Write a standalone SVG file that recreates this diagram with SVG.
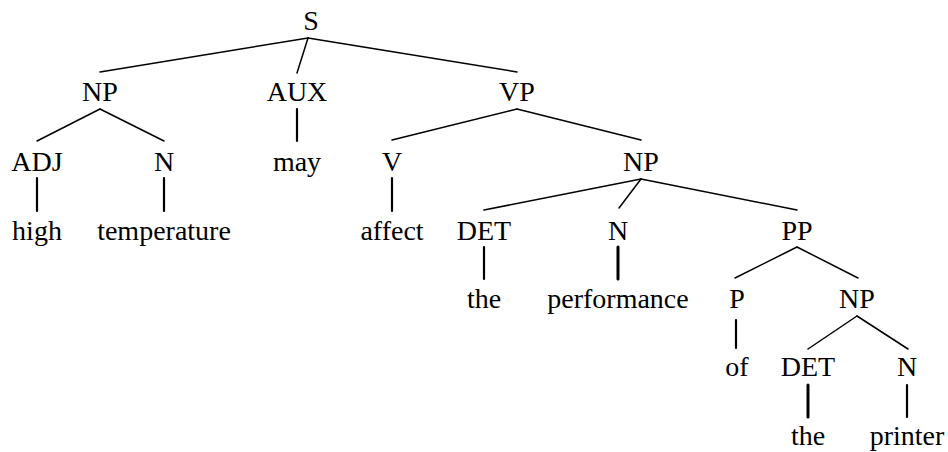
<svg xmlns="http://www.w3.org/2000/svg" width="948" height="452" viewBox="0 0 948 452">
<style>
text{font-family:"Liberation Serif","Times New Roman",serif;font-size:28px;fill:#000;text-anchor:middle}
.e{stroke:#000;stroke-width:1.5;fill:none;stroke-linecap:round}
.v{stroke-width:2.2}
.b{stroke-width:3}
</style>
<rect width="948" height="452" fill="#fff"/>
<g id="connectors">
<line class="e" x1="308" y1="38" x2="100" y2="72"/>
<line class="e" x1="308" y1="38" x2="297" y2="73"/>
<line class="e" x1="308" y1="38" x2="517" y2="72"/>
<line class="e" x1="100" y1="109" x2="37" y2="141"/>
<line class="e" x1="100" y1="109" x2="164" y2="141"/>
<line class="e v" x1="297" y1="109" x2="297" y2="141"/>
<line class="e" x1="517" y1="109" x2="392" y2="140"/>
<line class="e" x1="517" y1="109" x2="641" y2="140"/>
<line class="e v" x1="37" y1="178" x2="37" y2="211"/>
<line class="e v" x1="164" y1="178" x2="164" y2="211"/>
<line class="e v" x1="392" y1="178" x2="392" y2="211"/>
<line class="e" x1="641" y1="179" x2="484" y2="210"/>
<line class="e" x1="641" y1="179" x2="619" y2="208"/>
<line class="e" x1="641" y1="179" x2="797" y2="210"/>
<line class="e v" x1="484" y1="247" x2="484" y2="279"/>
<line class="e b" x1="618" y1="247" x2="618" y2="279"/>
<line class="e" x1="797" y1="247" x2="735" y2="278"/>
<line class="e" x1="797" y1="247" x2="858" y2="278"/>
<line class="e v" x1="736" y1="320" x2="736" y2="348"/>
<line class="e" x1="857" y1="316" x2="808" y2="349"/>
<line class="e" x1="857" y1="316" x2="908" y2="349"/>
<line class="e b" x1="808" y1="385" x2="808" y2="417"/>
<line class="e v" x1="907" y1="385" x2="907" y2="417"/>
</g>
<g id="S"><text x="311" y="30">S</text></g>
<g id="NP1"><text x="100" y="101">NP</text></g>
<g id="AUX"><text x="297" y="101">AUX</text></g>
<g id="VP"><text x="517" y="101">VP</text></g>
<g id="ADJ"><text x="37" y="171">ADJ</text></g>
<g id="N1"><text x="164" y="171">N</text></g>
<g id="may"><text x="297" y="171">may</text></g>
<g id="V"><text x="392" y="171">V</text></g>
<g id="NP2"><text x="641" y="171">NP</text></g>
<g id="high"><text x="37" y="240">high</text></g>
<g id="temperature"><text x="164" y="240">temperature</text></g>
<g id="affect"><text x="392" y="240">affect</text></g>
<g id="DET1"><text x="484" y="240">DET</text></g>
<g id="N2"><text x="618" y="240">N</text></g>
<g id="PP"><text x="797" y="240">PP</text></g>
<g id="the1"><text x="484" y="308">the</text></g>
<g id="performance"><text x="618" y="308">performance</text></g>
<g id="P"><text x="737" y="308">P</text></g>
<g id="NP3"><text x="857" y="308">NP</text></g>
<g id="of"><text x="737" y="376">of</text></g>
<g id="DET2"><text x="808" y="376">DET</text></g>
<g id="N3"><text x="907" y="376">N</text></g>
<g id="the2"><text x="808" y="445">the</text></g>
<g id="printer"><text x="907" y="445">printer</text></g>
</svg>
